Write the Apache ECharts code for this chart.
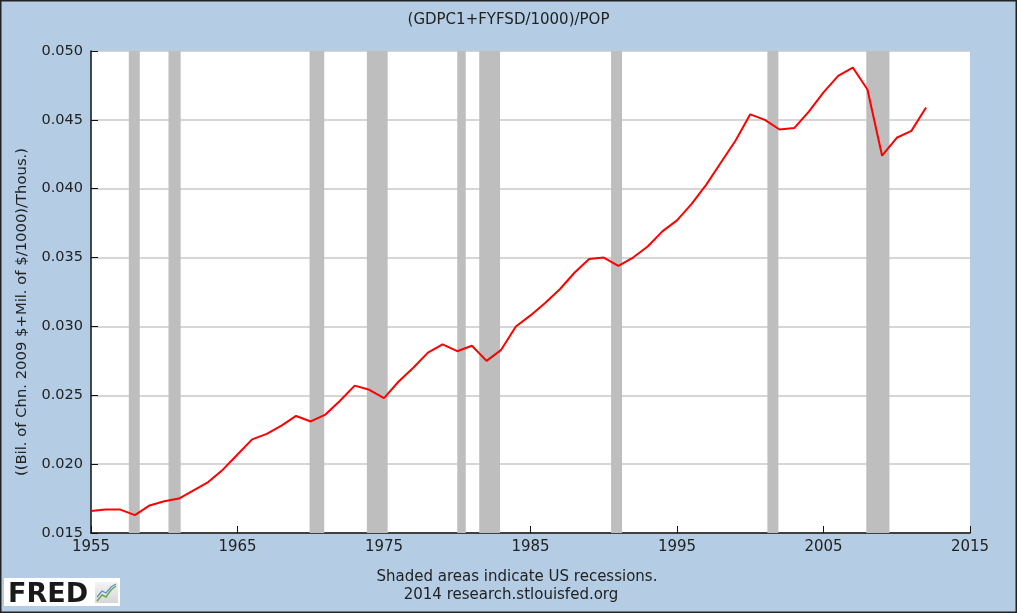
<!DOCTYPE html>
<html>
<head>
  <meta charset="UTF-8" />
  <title>(GDPC1+FYFSD/1000)/POP</title>
  <script src="https://cdn.jsdelivr.net/npm/echarts@6/dist/echarts.min.js"></script>
  <style>
    body { margin: 0; background: #b4cde4; }
    #main { width: 1017px; height: 613px; }
  </style>
</head>
<body>
  <div id="main"></div>
  <script>
    // annual values
    const years = [];
    for (let y = 1955; y <= 2012; y++) years.push(y);
    const values = [
      0.0166, 0.0167, 0.0167, 0.0163, 0.0170, 0.0173, 0.0175, 0.0181, 0.0187, 0.0196,
      0.0207, 0.0218, 0.0222, 0.0228, 0.0235, 0.0231, 0.0236, 0.0246, 0.0257, 0.0254,
      0.0248, 0.0260, 0.0270, 0.0281, 0.0287, 0.0282, 0.0286, 0.0275, 0.0283, 0.0300,
      0.0308, 0.0317, 0.0327, 0.0339, 0.0349, 0.0350, 0.0344, 0.0350, 0.0358, 0.0369,
      0.0377, 0.0389, 0.0403, 0.0419, 0.0435, 0.0454, 0.0450, 0.0443, 0.0444, 0.0456,
      0.0470, 0.0482, 0.0488, 0.0472, 0.0424, 0.0437, 0.0442, 0.0459
    ];
    // NBER recessions (start, end) in decimal years
    const recessions = [
      [1957.58, 1958.33], [1960.29, 1961.12], [1969.92, 1970.92], [1973.83, 1975.25],
      [1980.0, 1980.58], [1981.5, 1982.92], [1990.5, 1991.25], [2001.17, 2001.92],
      [2007.92, 2009.5]
    ];

    const chart = echarts.init(document.getElementById('main'));
    const font = 'DejaVu Sans';

    chart.setOption({
      animation: false,
      backgroundColor: '#b4cde4',
      textStyle: { fontFamily: font },
      title: {
        text: '(GDPC1+FYFSD/1000)/POP',
        left: 'center',
        top: 8,
        textStyle: { fontSize: 15, fontWeight: 'normal', color: '#222', fontFamily: font }
      },
      grid: { left: 91, right: 47, top: 51, bottom: 80, backgroundColor: '#fff', show: true, borderWidth: 0 },
      xAxis: {
        type: 'value',
        min: 1955,
        max: 2015,
        interval: 10,
        axisLine: { lineStyle: { color: '#111', width: 1.5 } },
        axisTick: { inside: true, length: 7, lineStyle: { color: '#111' } },
        axisLabel: { color: '#222', fontSize: 15, margin: 7, formatter: v => String(v) },
        splitLine: { show: false }
      },
      yAxis: {
        type: 'value',
        min: 0.015,
        max: 0.050,
        interval: 0.005,
        axisLine: { show: true, lineStyle: { color: '#111', width: 1.5 } },
        axisTick: { show: true, inside: true, length: 7, lineStyle: { color: '#111' } },
        axisLabel: { color: '#222', fontSize: 14.5, margin: 8, formatter: v => v.toFixed(3) },
        splitLine: { lineStyle: { color: '#c8c8c8', width: 1.5 } }
      },
      series: [
        {
          type: 'line',
          data: [],
          z: 1,
          markArea: {
            silent: true,
            itemStyle: { color: '#bebebe' },
            data: recessions.map(r => [{ xAxis: r[0] }, { xAxis: r[1] }])
          }
        },
        {
          type: 'line',
          z: 5,
          data: years.map((y, i) => [y, values[i]]),
          showSymbol: false,
          lineStyle: { color: '#ff0000', width: 2 },
          itemStyle: { color: '#ff0000' }
        }
      ],
      graphic: [
        {
          type: 'text', x: 22, y: 312, rotation: Math.PI / 2,
          style: {
            text: '((Bil. of Chn. 2009 $+Mil. of $/1000)/Thous.)',
            fontSize: 14.8, fill: '#222', fontFamily: font, align: 'center', verticalAlign: 'middle'
          }
        },
        {
          type: 'text', x: 517, y: 577,
          style: { text: 'Shaded areas indicate US recessions.', fontSize: 15, fill: '#222', fontFamily: font, align: 'center', verticalAlign: 'middle' }
        },
        {
          type: 'text', x: 511, y: 595,
          style: { text: '2014 research.stlouisfed.org', fontSize: 15, fill: '#222', fontFamily: font, align: 'center', verticalAlign: 'middle' }
        },
        // FRED logo
        {
          type: 'rect', shape: { x: 4, y: 578, width: 116, height: 28 },
          style: { fill: '#fff' }
        },
        {
          type: 'text', x: 8, y: 581,
          style: { text: 'FRED', fontSize: 27, fontWeight: 'bold', fill: '#1a1a1a', fontFamily: 'DejaVu Sans' }
        },
        {
          type: 'rect', shape: { x: 95, y: 582, width: 23, height: 21 },
          style: {
            fill: new echarts.graphic.LinearGradient(0, 0, 0, 1, [
              { offset: 0, color: '#f4f4f4' }, { offset: 1, color: '#d6d6d6' }
            ])
          }
        },
        {
          type: 'polyline', shape: { points: [[97, 601], [102, 595], [106, 597], [111, 590], [116, 586]] },
          style: { stroke: '#6aa84f', lineWidth: 1.5, fill: null }
        },
        {
          type: 'polyline', shape: { points: [[97, 597], [102, 591], [106, 593], [111, 587], [116, 584]] },
          style: { stroke: '#5b8fc9', lineWidth: 1.2, fill: null }
        },
        {
          type: 'rect', shape: { x: 0.75, y: 0.75, width: 1015.5, height: 611.5 },
          style: { fill: null, stroke: '#222', lineWidth: 1.5 }
        }
      ]
    });
  </script>
</body>
</html>
